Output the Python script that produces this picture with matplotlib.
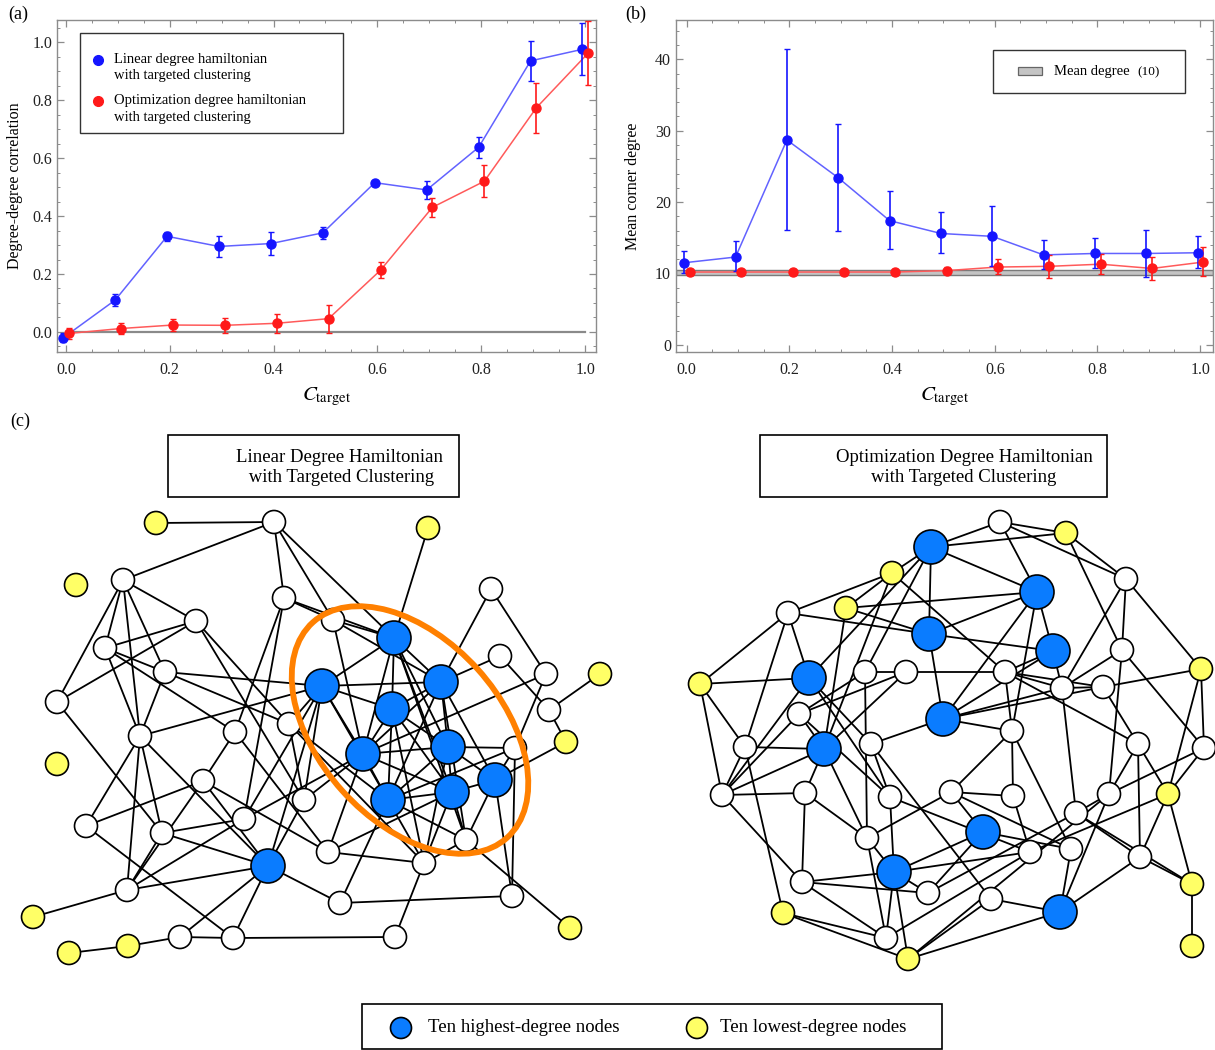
import numpy as np
import matplotlib
matplotlib.use("Agg")
import matplotlib.pyplot as plt
from matplotlib.patches import Circle, Ellipse, Rectangle
from matplotlib.ticker import MultipleLocator

plt.rcParams['font.family'] = ['Liberation Serif', 'DejaVu Serif']
plt.rcParams['mathtext.fontset'] = 'stix'

# ---- panel data ----
c_target = [0.0, 0.1, 0.2, 0.3, 0.4, 0.5, 0.6, 0.7, 0.8, 0.9, 1.0]

corr_linear = [-0.02, 0.11, 0.33, 0.295, 0.305, 0.342, 0.515, 0.49, 0.637, 0.935, 0.975]
corr_linear_err = [0.015, 0.02, 0.015, 0.035, 0.04, 0.02, 0.006, 0.03, 0.037, 0.07, 0.09]
corr_optim = [-0.005, 0.012, 0.024, 0.023, 0.03, 0.046, 0.213, 0.43, 0.52, 0.773, 0.962]
corr_optim_err = [0.02, 0.02, 0.022, 0.025, 0.033, 0.048, 0.028, 0.033, 0.055, 0.085, 0.11]

deg_linear = [11.5, 12.3, 28.7, 23.4, 17.4, 15.6, 15.2, 12.6, 12.8, 12.8, 12.9]
deg_linear_lo = [10.0, 10.3, 16.1, 16.0, 13.4, 12.8, 11.0, 10.6, 10.7, 9.5, 10.7]
deg_linear_hi = [13.1, 14.5, 41.4, 30.9, 21.6, 18.6, 19.4, 14.7, 15.0, 16.1, 15.3]
deg_optim = [10.2, 10.2, 10.2, 10.2, 10.2, 10.4, 10.9, 11.0, 11.3, 10.7, 11.6]
deg_optim_lo = [9.8, 9.8, 9.8, 9.8, 9.8, 9.9, 9.9, 9.4, 9.9, 9.1, 9.7]
deg_optim_hi = [10.6, 10.6, 10.6, 10.6, 10.6, 10.9, 12.0, 12.6, 12.7, 12.3, 13.7]
mean_degree_band = (9.8, 10.5)

# ---- network data (pixel positions) ----
left_x = [156, 274, 428, 76, 123, 491, 284, 196, 333, 394, 105, 500, 165, 322, 441, 546, 600,
          57, 392, 549, 289, 235, 140, 566, 363, 448, 515, 57, 203, 495, 388, 452, 304, 86,
          244, 162, 466, 328, 268, 424, 127, 340, 512, 33, 570, 180, 233, 395, 69, 128]
left_y = [523, 522, 528, 585, 580, 589, 598, 621, 620, 638, 648, 656, 672, 686, 682, 674, 674,
          702, 709, 710, 724, 732, 736, 742, 754, 747, 748, 764, 781, 780, 800, 792, 800, 826,
          819, 833, 840, 852, 866, 863, 890, 903, 896, 917, 928, 937, 938, 937, 953, 946]
left_kind = "ywyywwwwwbwwwbbwywbwwwwybbwywbbbwwwwwwbwwwwyywwwyy"
left_edges = [
    (0, 1), (1, 4), (1, 6), (1, 8), (1, 9), (2, 9),
    (4, 17), (4, 10), (4, 22), (4, 12), (4, 7),
    (7, 10), (7, 17), (7, 20), (7, 32),
    (10, 12), (10, 22), (10, 21),
    (12, 13), (12, 22), (12, 20), (22, 33),
    (17, 35),
    (22, 13), (22, 35), (22, 38), (22, 40),
    (21, 6), (21, 28), (21, 37), (6, 34),
    (20, 13), (20, 39), (20, 32),
    (28, 33), (28, 40), (28, 38), (28, 37),
    (34, 35), (34, 40), (34, 13), (34, 24),
    (35, 38), (35, 40),
    (38, 40), (38, 45), (38, 46), (38, 41), (38, 13), (38, 32),
    (40, 43), (33, 46), (45, 46), (45, 49), (49, 48), (46, 47), (47, 39),
    (41, 42), (41, 30), (42, 26), (42, 29), (36, 44),
    (37, 39), (37, 24), (37, 31),
    (11, 14), (11, 19), (5, 14), (5, 15), (15, 24), (15, 26), (16, 19), (19, 23), (23, 29),
    (6, 8), (6, 9), (8, 9), (8, 24), (8, 14),
    (9, 13), (9, 14), (9, 18), (9, 25), (9, 31), (9, 24), (9, 36),
    (13, 14), (13, 18), (13, 24), (13, 30),
    (14, 18), (14, 25), (14, 24), (14, 30), (14, 36), (14, 29),
    (18, 24), (18, 25), (18, 30), (18, 31), (18, 39),
    (24, 25), (24, 30), (24, 31), (24, 32),
    (25, 26), (25, 29), (25, 30), (25, 31), (25, 39),
    (29, 31), (29, 26), (29, 36),
    (30, 31), (30, 36), (30, 39),
    (31, 36), (31, 39), (26, 30), (36, 39), (20, 30), (32, 13),
]

right_x = [1000, 1066, 931, 892, 1126, 1037, 846, 788, 929, 1053, 1122, 1201, 809, 865, 906,
           1005, 1062, 1103, 700, 799, 943, 1012, 745, 824, 871, 1138, 1204, 722, 805, 890,
           951, 1013, 1109, 1168, 1076, 983, 867, 1030, 1071, 1140, 894, 802, 928, 1192, 991,
           1060, 783, 886, 908, 1192]
right_y = [522, 533, 547, 573, 579, 592, 608, 613, 634, 651, 650, 669, 678, 672, 672,
           672, 688, 687, 684, 714, 719, 731, 747, 749, 744, 744, 748, 795, 793, 797,
           792, 796, 794, 794, 813, 832, 838, 852, 849, 857, 872, 882, 893, 884, 899,
           912, 913, 938, 959, 946]
right_kind = "wybywbywbbwybwwwwwywbwwbwwwwwwwwwywbwwwwbwwywbywyy"
right_edges = [
    (0, 2), (0, 1), (0, 4), (0, 5), (2, 1), (1, 4), (1, 10),
    (2, 3), (2, 8), (2, 5), (2, 12), (2, 13),
    (3, 7), (3, 6), (3, 15), (3, 23),
    (6, 8), (6, 5), (6, 23),
    (7, 18), (7, 12), (7, 22), (7, 8),
    (5, 8), (5, 9), (5, 20), (5, 21),
    (8, 9), (8, 20),
    (4, 10), (4, 11), (4, 16),
    (9, 16), (9, 15), (9, 20),
    (10, 32), (10, 26), (10, 16),
    (11, 17), (11, 26), (11, 33),
    (12, 18), (12, 27), (12, 29), (12, 24),
    (13, 14), (13, 19), (13, 36),
    (14, 15), (14, 19), (14, 23),
    (15, 16), (15, 17), (15, 21), (15, 25),
    (16, 17), (16, 20), (16, 34),
    (17, 25),
    (18, 22), (18, 27),
    (19, 23), (19, 27), (19, 29),
    (20, 24), (20, 21), (20, 17),
    (21, 31), (21, 30), (21, 38),
    (22, 23), (22, 46), (22, 27),
    (23, 27), (23, 28), (23, 36),
    (24, 29), (24, 44),
    (25, 32), (25, 39), (25, 33),
    (26, 33), (26, 32),
    (27, 28), (27, 41),
    (28, 41), (28, 36),
    (29, 40), (29, 37),
    (30, 31), (30, 36), (30, 38), (30, 35),
    (31, 37),
    (32, 34), (32, 48), (32, 45),
    (33, 43), (33, 39), (33, 37),
    (34, 39), (34, 42), (34, 43),
    (35, 40), (35, 42), (35, 38),
    (36, 40), (36, 47),
    (37, 40), (37, 47),
    (38, 45),
    (39, 45), (39, 43),
    (40, 41), (40, 42), (40, 47), (40, 48),
    (41, 42), (41, 47),
    (44, 45), (44, 48),
    (45, 48),
    (46, 47), (46, 48),
    (43, 49),
]

BLUE_M, BLUE_L = '#1515ff', '#6262ff'
RED_M, RED_L = '#ff1a1a', '#ff5a5a'
NODE_COL = {'w': 'white', 'b': '#0a7cff', 'y': '#ffff66'}
NODE_R = {'w': 11.5, 'b': 17, 'y': 11.5}
FRAME = '#8c8c8c'


def style_axes(ax, xminor, ymajor, yminor):
    for sp in ax.spines.values():
        sp.set_color(FRAME)
        sp.set_linewidth(1.0)
    ax.xaxis.set_major_locator(MultipleLocator(0.2))
    ax.xaxis.set_minor_locator(MultipleLocator(xminor))
    ax.yaxis.set_major_locator(MultipleLocator(ymajor))
    ax.yaxis.set_minor_locator(MultipleLocator(yminor))
    ax.tick_params(which='both', direction='in', top=True, right=True, color=FRAME,
                   labelsize=11.5, labelcolor='#222222')
    ax.tick_params(which='major', length=5, width=0.9)
    ax.tick_params(axis='x', which='major', pad=7)
    ax.tick_params(which='minor', length=2.5, width=0.7)


def series(ax, x, y, yerr, mcol, lcol, dx):
    xs = np.array(x) + dx
    ax.plot(xs, y, '-', color=lcol, lw=1.1, zorder=3)
    ax.errorbar(xs, y, yerr=yerr, fmt='o', ms=6.5, color=mcol, ecolor=mcol,
                elinewidth=1.2, capsize=2.5, capthick=1.0, zorder=4)


fig = plt.figure(figsize=(12.15, 10.5), dpi=100)

# (a) degree-degree correlation
ax1 = fig.add_axes([57 / 1215, 1 - 352 / 1050, 539 / 1215, 332 / 1050])
ax1.plot([0, 1.0], [0, 0], color='#8a8a8a', lw=1.6, zorder=2)
series(ax1, c_target, corr_linear, corr_linear_err, BLUE_M, BLUE_L, -0.005)
series(ax1, c_target, corr_optim, corr_optim_err, RED_M, RED_L, 0.006)
ax1.set_xlim(-0.017, 1.021)
ax1.set_ylim(-0.069, 1.076)
style_axes(ax1, 0.05, 0.2, 0.05)
ax1.set_ylabel('Degree-degree correlation', fontsize=11.5, labelpad=7)
ax1.set_xlabel(r'$C_{\mathrm{target}}$', fontsize=15, labelpad=6)

# (b) mean corner degree
ax2 = fig.add_axes([676 / 1215, 1 - 352 / 1050, 537 / 1215, 332 / 1050])
ax2.axhspan(*mean_degree_band, facecolor='#c4c4c4', edgecolor='#7a7a7a', lw=1.0, zorder=2)
deg_linear_err = [np.subtract(deg_linear, deg_linear_lo), np.subtract(deg_linear_hi, deg_linear)]
deg_optim_err = [np.subtract(deg_optim, deg_optim_lo), np.subtract(deg_optim_hi, deg_optim)]
series(ax2, c_target, deg_linear, deg_linear_err, BLUE_M, BLUE_L, -0.005)
series(ax2, c_target, deg_optim, deg_optim_err, RED_M, RED_L, 0.006)
ax2.set_xlim(-0.021, 1.025)
ax2.set_ylim(-1.0, 45.5)
style_axes(ax2, 0.05, 10, 2)
ax2.set_ylabel('Mean corner degree', fontsize=11.5, labelpad=10)
ax2.set_xlabel(r'$C_{\mathrm{target}}$', fontsize=15, labelpad=6)

# overlay in pixel coordinates for the networks, boxes and panel letters
ov = fig.add_axes([0, 0, 1, 1], zorder=10)
ov.set_xlim(0, 1215)
ov.set_ylim(1050, 0)
ov.axis('off')
ov.patch.set_alpha(0)

for lab, (px, py) in zip(['(a)', '(b)', '(c)'], [(8, 14), (625, 14), (10, 421)]):
    ov.text(px, py, lab, fontsize=13, ha='left', va='center')

# legend of (a)
ov.add_patch(Rectangle((80, 33), 263, 100, fill=False, ec='#333333', lw=1.0))
ov.plot([98], [60], 'o', ms=7, color=BLUE_M)
ov.plot([98], [101], 'o', ms=7, color=RED_M)
ov.text(114, 59, 'Linear degree hamiltonian', fontsize=10.5, va='center')
ov.text(114, 75.5, 'with targeted clustering', fontsize=10.5, va='center')
ov.text(114, 100.5, 'Optimization degree hamiltonian', fontsize=10.5, va='center')
ov.text(114, 117, 'with targeted clustering', fontsize=10.5, va='center')

# legend of (b)
ov.add_patch(Rectangle((993, 50), 192, 43, fill=False, ec='#333333', lw=1.0))
ov.add_patch(Rectangle((1018, 67), 24, 8, fc='#c4c4c4', ec='#666666', lw=0.9))
ov.text(1054, 71, 'Mean degree', fontsize=10.5, va='center')
ov.text(1137, 72, '(10)', fontsize=9.5, va='center')

# network titles
for (bx, bw, cx), lines in [((168, 291, 339), ['Linear Degree Hamiltonian', ' with Targeted Clustering']),
                            ((760, 347, 964), ['Optimization Degree Hamiltonian', 'with Targeted Clustering'])]:
    ov.add_patch(Rectangle((bx, 435), bw, 62, fill=False, ec='black', lw=1.2))
    ov.text(cx, 457, lines[0], fontsize=13.5, ha='center', va='center')
    ov.text(cx, 478, lines[1], fontsize=13.5, ha='center', va='center')


def draw_network(xs, ys, kinds, edges):
    for i, j in edges:
        ov.plot([xs[i], xs[j]], [ys[i], ys[j]], color='black', lw=1.3,
                solid_capstyle='round', zorder=1)
    for x, y, k in zip(xs, ys, kinds):
        ov.add_patch(Circle((x, y), NODE_R[k], fc=NODE_COL[k], ec='black', lw=1.2, zorder=3))


draw_network(left_x, left_y, left_kind, left_edges)
draw_network(right_x, right_y, right_kind, right_edges)

# highlighted cluster
ov.add_patch(Ellipse((410, 730), 290, 182, angle=48, fill=False, ec='#ff8000', lw=4.2, zorder=4))

# node legend
ov.add_patch(Rectangle((362, 1004), 580, 45, fill=False, ec='black', lw=1.2))
ov.add_patch(Circle((401, 1028), 10.5, fc=NODE_COL['b'], ec='black', lw=1.2))
ov.add_patch(Circle((697, 1028), 10.5, fc=NODE_COL['y'], ec='black', lw=1.2))
ov.text(428, 1028, 'Ten highest-degree nodes', fontsize=13.5, va='center')
ov.text(720, 1028, 'Ten lowest-degree nodes', fontsize=13.5, va='center')

fig.savefig('out.png', dpi=100)
